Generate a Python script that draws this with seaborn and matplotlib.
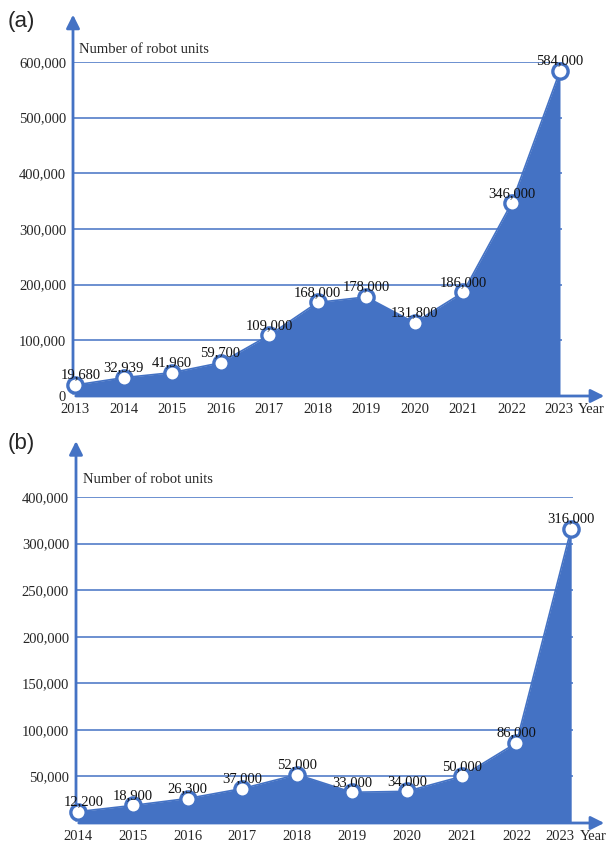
import pandas as pd
import matplotlib
matplotlib.use("Agg")
import matplotlib.pyplot as plt
import matplotlib.transforms as mtransforms
import seaborn as sns

# panel (a)
years_a = [2013, 2014, 2015, 2016, 2017, 2018, 2019, 2020, 2021, 2022, 2023]
units_a = [19680, 32939, 41960, 59700, 109000, 168000, 178000, 131800, 186000, 346000, 584000]
labels_a = ["19,680", "32,939", "41,960", "59,700", "109,000", "168,000", "178,000",
            "131,800", "186,000", "346,000", "584,000"]
yticks_a = [0, 100000, 200000, 300000, 400000, 500000, 600000]
yticklabels_a = ["0", "100,000", "200,000", "300,000", "400,000", "500,000", "600,000"]

# panel (b)
years_b = [2014, 2015, 2016, 2017, 2018, 2019, 2020, 2021, 2022, 2023]
units_b = [12200, 18900, 26300, 37000, 52000, 33000, 34000, 50000, 86000, 316000]
labels_b = ["12,200", "18,900", "26,300", "37,000", "52,000", "33,000", "34,000",
            "50,000", "86,000", "316,000"]
yticks_b = [50000, 100000, 150000, 200000, 250000, 300000, 350000]
yticklabels_b = ["50,000", "100,000", "150,000", "200,000", "250,000", "300,000", "400,000"]

sns.set_style("white")
plt.rcParams['font.family'] = ['Liberation Serif', 'DejaVu Serif']

BLUE = "#4472C4"
W, H = 607, 848
fig = plt.figure(figsize=(W / 100, H / 100), dpi=100)


def px_axes(left, right, top, bottom):
    return fig.add_axes([left / W, 1 - bottom / H, (right - left) / W, (bottom - top) / H])


def panel(ax, years, units, labels, yticks, yticklabels, x0px, dx, axis_px, ymax,
          arrow_top, title_y, last_shift, year_off):
    df = pd.DataFrame({"i": range(len(years)), "units": units})
    n = len(years)
    ax.set_xlim(-(x0px - axis_px) / dx, (W - x0px) / dx)
    ax.set_ylim(0, ymax)
    ax.fill_between(df["i"], 0, df["units"], color=BLUE, lw=0, zorder=2)
    # gridlines from the y axis to the end of the area
    ax.hlines([t for t in yticks if t > 0], ax.get_xlim()[0], n - 1 + 0.04,
              color=BLUE, lw=1.1, zorder=1)
    sns.lineplot(data=df, x="i", y="units", ax=ax, color=BLUE, lw=1.2,
                 marker="o", markersize=11, markerfacecolor="white",
                 markeredgecolor=BLUE, markeredgewidth=2.4, zorder=7, clip_on=False)
    for i, (v, s) in enumerate(zip(units, labels)):
        ax.annotate(s, (i, v), xytext=(4 if i == 0 else 0, 2.5), textcoords="offset points",
                    ha="center", va="bottom", fontsize=10.5, color="#111111", zorder=8)
    for sp in ax.spines.values():
        sp.set_visible(False)
    ax.set_xticks(range(n))
    ax.set_xticklabels([str(y) for y in years], fontsize=10.5)
    ax.set_yticks(yticks)
    ax.set_yticklabels(yticklabels, fontsize=10.5)
    ax.tick_params(length=0, pad=5)
    ax.set_xlabel("")
    ax.set_ylabel("")
    last = ax.get_xticklabels()[-1]
    last.set_transform(last.get_transform() +
                       mtransforms.ScaledTranslation(last_shift / 72, 0, fig.dpi_scale_trans))
    # axes arrows
    ax.annotate("", xy=(1.0, 0), xytext=(0, 0), xycoords=ax.get_yaxis_transform(),
                arrowprops=dict(arrowstyle="-|>", color=BLUE, lw=2, mutation_scale=20),
                annotation_clip=False, zorder=6)
    xa = ax.get_xlim()[0]
    ax.annotate("", xy=(xa, arrow_top), xytext=(xa, 0), xycoords=ax.get_xaxis_transform(),
                arrowprops=dict(arrowstyle="-|>", color=BLUE, lw=2, mutation_scale=20),
                annotation_clip=False, zorder=6)
    ax.annotate("Year", (n - 1, 0), xycoords=("data", "axes fraction"),
                xytext=(year_off, -5), textcoords="offset points",
                ha="left", va="top", fontsize=10.5)
    ax.text(xa + 0.13, ymax * title_y, "Number of robot units", ha="left", va="bottom",
            fontsize=10.5)


ax_a = px_axes(73, W, 62, 396)
panel(ax_a, years_a, units_a, labels_a, yticks_a, yticklabels_a,
      x0px=75, dx=48.5, axis_px=73, ymax=600000, arrow_top=1.15, title_y=1.018,
      last_shift=-1, year_off=13)
ax_b = px_axes(76, W, 497, 823)
panel(ax_b, years_b, units_b, labels_b, yticks_b, yticklabels_b,
      x0px=78, dx=54.8, axis_px=76, ymax=350000, arrow_top=1.18, title_y=1.035,
      last_shift=-8, year_off=6)

fig.text(8 / W, 1 - 22 / H, "(a)", fontsize=16, family=["Liberation Sans", "DejaVu Sans"],
         ha="left", va="center")
fig.text(8 / W, 1 - 443 / H, "(b)", fontsize=16, family=["Liberation Sans", "DejaVu Sans"],
         ha="left", va="center")

fig.savefig("out.png", dpi=100)
